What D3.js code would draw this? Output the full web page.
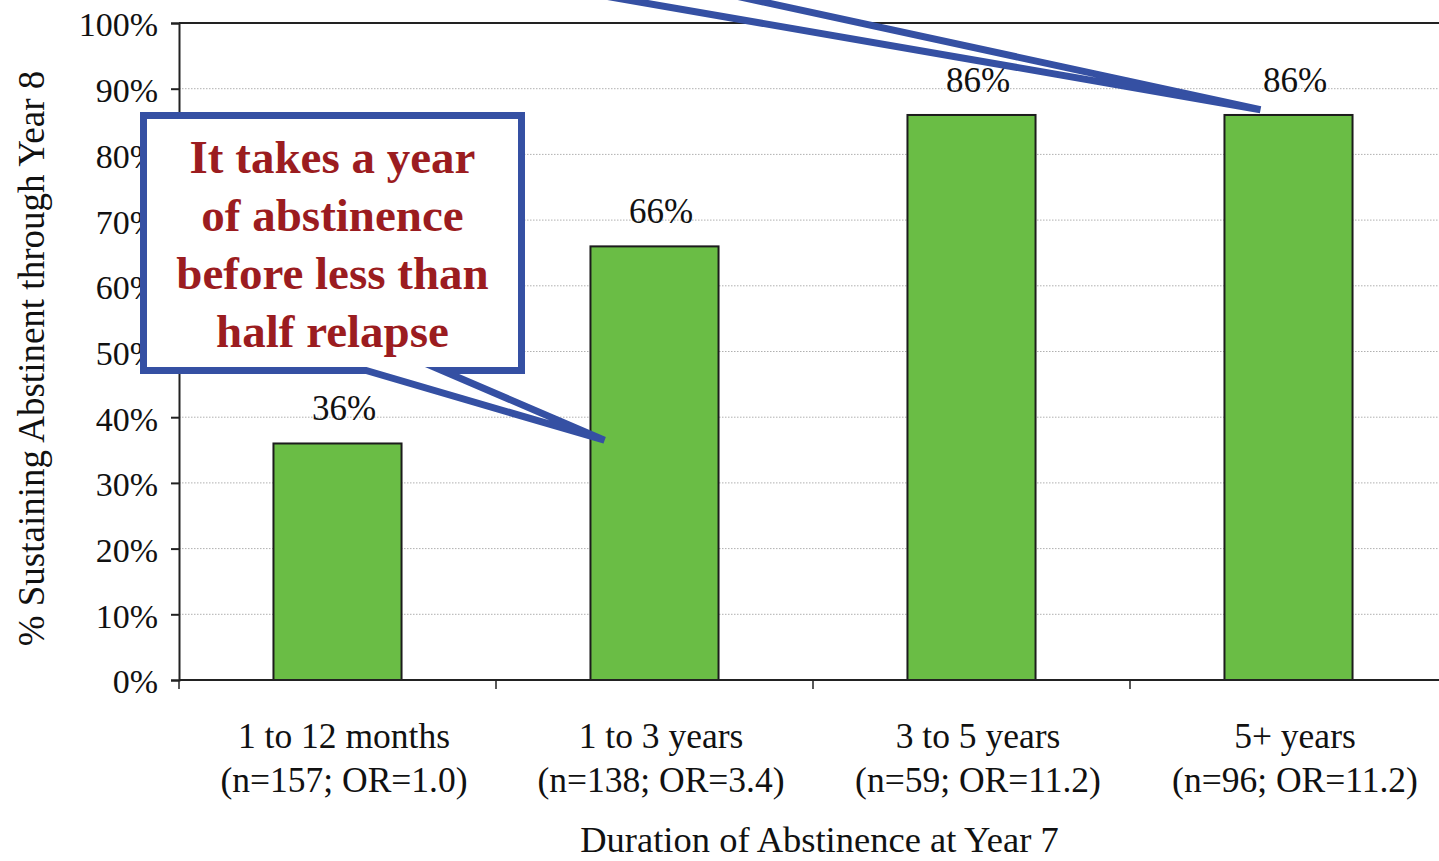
<!DOCTYPE html>
<html>
<head>
<meta charset="utf-8">
<script src="https://cdn.jsdelivr.net/npm/d3@7"></script>
<style>
  html, body { margin: 0; padding: 0; background: #ffffff; overflow: hidden; }
  svg { display: block; }
  text { font-family: "Liberation Serif", "Times New Roman", Times, serif; fill: #111; }
</style>
</head>
<body>
<svg id="chart" width="1439" height="861"></svg>
<script>
// Abstinence duration at year 7 vs. share still abstinent through year 8
const categories = ["1 to 12 months", "1 to 3 years", "3 to 5 years", "5+ years"];
const sampleSizes = [157, 138, 59, 96];
const oddsRatios = ["1.0", "3.4", "11.2", "11.2"];
const values = [36, 66, 86, 86];
const yTicks = [0, 10, 20, 30, 40, 50, 60, 70, 80, 90, 100];
const calloutLines = ["It takes a year", "of abstinence", "before less than", "half relapse"];

const svg = d3.select("#chart");
const plot = { left: 179, top: 23, bottom: 680, step: 317 };
plot.right = plot.left + plot.step * categories.length;

const x = d3.scaleBand().domain(categories).range([plot.left, plot.right]).padding(0);
const y = d3.scaleLinear().domain([0, 100]).range([plot.bottom, plot.top]);
const barW = x.bandwidth() * 0.404;
const labelShift = 6.5;

const blue = "#3550a3";

// dotted horizontal gridlines
svg.append("g").selectAll("line")
  .data(yTicks.filter(t => t > 0 && t < 100))
  .join("line")
  .attr("x1", plot.left).attr("x2", plot.right)
  .attr("y1", d => y(d)).attr("y2", d => y(d))
  .attr("stroke", "#b0b0b0").attr("stroke-width", 1)
  .attr("stroke-dasharray", "1.5,1.5");

// plot frame (top edge)
svg.append("line")
  .attr("x1", plot.left).attr("x2", plot.right)
  .attr("y1", y(100)).attr("y2", y(100))
  .attr("stroke", "#222").attr("stroke-width", 2);

// bars
svg.append("g").selectAll("rect")
  .data(values)
  .join("rect")
  .attr("x", (d, i) => x(categories[i]) + (x.bandwidth() - barW) / 2)
  .attr("y", d => y(d))
  .attr("width", barW)
  .attr("height", d => y(0) - y(d))
  .attr("fill", "#6abd45")
  .attr("stroke", "#1c1c1c").attr("stroke-width", 2);

// value labels
svg.append("g").selectAll("text")
  .data(values)
  .join("text")
  .attr("x", (d, i) => x(categories[i]) + x.bandwidth() / 2 + labelShift)
  .attr("y", d => y(d) - 23)
  .attr("text-anchor", "middle")
  .attr("font-size", 35)
  .text(d => d + "%");

// y axis
const yAxis = d3.axisLeft(y).tickValues(yTicks).tickFormat(d => d + "%").tickSize(8).tickPadding(13);
const gy = svg.append("g").attr("transform", `translate(${plot.left},0)`).call(yAxis);
gy.select(".domain").attr("stroke", "#222").attr("stroke-width", 2);
gy.selectAll(".tick line").attr("stroke", "#222").attr("stroke-width", 2);
gy.selectAll(".tick text")
  .attr("font-size", 34).attr("fill", "#111").attr("dy", "0.38em");

// x axis baseline and category separators
svg.append("line")
  .attr("x1", plot.left).attr("x2", plot.right)
  .attr("y1", y(0)).attr("y2", y(0))
  .attr("stroke", "#222").attr("stroke-width", 2);
svg.append("g").selectAll("line")
  .data(categories)
  .join("line")
  .attr("x1", d => x(d)).attr("x2", d => x(d))
  .attr("y1", y(0)).attr("y2", y(0) + 9)
  .attr("stroke", "#222").attr("stroke-width", 1.5);

// category labels, two lines each
const cat = svg.append("g").selectAll("text")
  .data(categories)
  .join("text")
  .attr("text-anchor", "middle")
  .attr("font-size", 35.5);
cat.append("tspan")
  .attr("x", d => x(d) + x.bandwidth() / 2 + labelShift)
  .attr("y", y(0) + 68)
  .text(d => d);
cat.append("tspan")
  .attr("x", d => x(d) + x.bandwidth() / 2 + labelShift)
  .attr("y", y(0) + 112)
  .text((d, i) => `(n=${sampleSizes[i]}; OR=${oddsRatios[i]})`);

// axis titles
svg.append("text")
  .attr("x", (plot.left + plot.right) / 2 + 6.5)
  .attr("y", 852)
  .attr("text-anchor", "middle")
  .attr("font-size", 36.5)
  .text("Duration of Abstinence at Year 7");

svg.append("text")
  .attr("transform", `translate(44,${(plot.top + plot.bottom) / 2 + 7}) rotate(-90)`)
  .attr("text-anchor", "middle")
  .attr("font-size", 37)
  .text("% Sustaining Abstinent through Year 8");

// callout pointing at the 1-3 year bar
const box = { left: 143.5, top: 115.5, right: 521.5, bottom: 370.5 };
const tip1 = [x(categories[1]) + (x.bandwidth() - barW) / 2 + 14, y(36.5)];
svg.append("path")
  .attr("d", `M${box.left},${box.top} H${box.right} V${box.bottom} H442 L${tip1[0]},${tip1[1]} L366,${box.bottom} H${box.left} Z`)
  .attr("fill", "#fff")
  .attr("stroke", blue).attr("stroke-width", 7)
  .attr("stroke-linejoin", "miter").attr("stroke-miterlimit", 10);

svg.append("g").selectAll("text")
  .data(calloutLines)
  .join("text")
  .attr("x", (box.left + box.right) / 2)
  .attr("y", (d, i) => 173 + i * 58)
  .attr("text-anchor", "middle")
  .attr("font-size", 47)
  .attr("font-weight", "bold")
  .style("fill", "#9b1c20")
  .text(d => d);

// pointer from a callout above, ending at the 5+ years bar
const tip2 = [x(categories[3]) + (x.bandwidth() - barW) / 2 + 36, y(86.5) - 2];
svg.append("path")
  .attr("d", `M570,-10 L${tip2[0]},${tip2[1]} L708,-10`)
  .attr("fill", "#fff")
  .attr("stroke", blue).attr("stroke-width", 7)
  .attr("stroke-linejoin", "miter").attr("stroke-miterlimit", 4);
</script>
</body>
</html>
